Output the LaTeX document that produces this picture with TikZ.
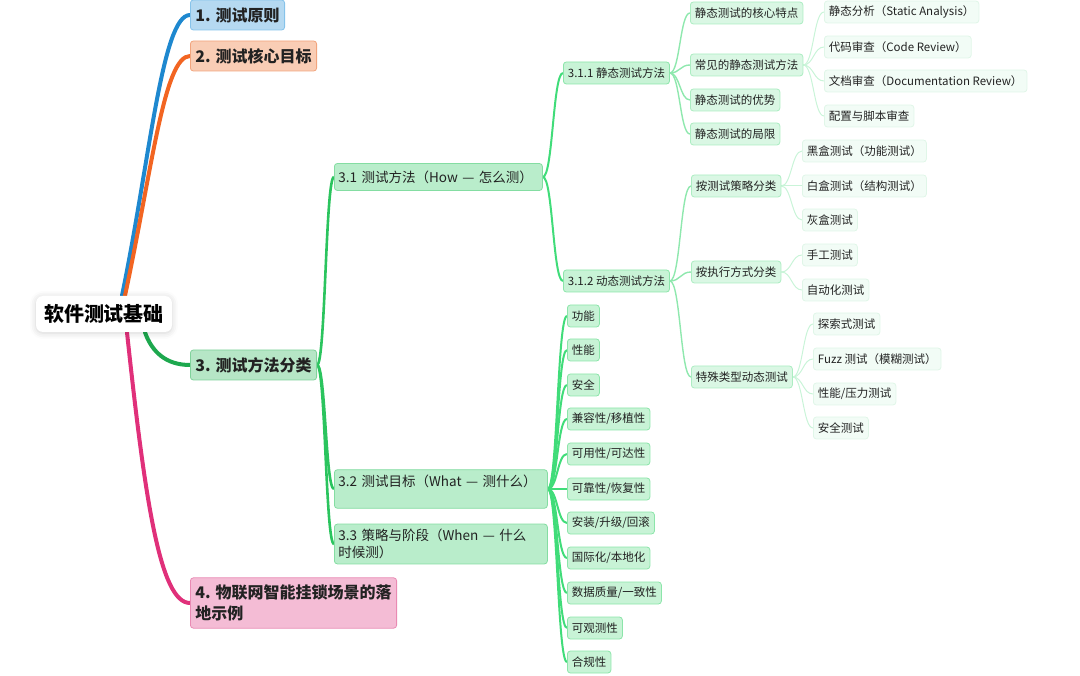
\documentclass[tikz,border=0pt]{standalone}
\usepackage{fontspec}
\setmainfont{Noto Sans CJK SC}
\usetikzlibrary{calc,backgrounds,shadows.blur}
\definecolor{txt}{HTML}{222222}
\definecolor{bLine}{HTML}{1E88CF}\definecolor{bFill}{HTML}{B5D9F1}\definecolor{bBd}{HTML}{86C3EA}
\definecolor{oLine}{HTML}{F26522}\definecolor{oFill}{HTML}{F9CDB5}\definecolor{oBd}{HTML}{F2A57E}
\definecolor{gLine}{HTML}{1DA84E}\definecolor{gFill}{HTML}{B6E6C6}\definecolor{gBd}{HTML}{80D29B}
\definecolor{pLine}{HTML}{E0307A}\definecolor{pFill}{HTML}{F4BCD5}\definecolor{pBd}{HTML}{E98AB3}
\definecolor{twoLine}{HTML}{2BC45E}\definecolor{twoFill}{HTML}{B9EDCB}\definecolor{twoBd}{HTML}{84DDA2}
\definecolor{thrLine}{HTML}{40DC79}\definecolor{thrFill}{HTML}{C8F3D6}\definecolor{thrBd}{HTML}{8CE5AA}
\definecolor{fouLine}{HTML}{8FE8AE}\definecolor{fouFill}{HTML}{DAF7E4}\definecolor{fouBd}{HTML}{ACEDC2}
\definecolor{fivLine}{HTML}{C9F4D8}\definecolor{fivFill}{HTML}{F2FCF6}\definecolor{fivBd}{HTML}{E0F6E8}
\newcommand\conn[3]{\draw[#1] let \p1=(#2.east), \p2=(#3.west), \n1={(\x1+\x2)/2} in (\p1) .. controls (\n1,\y1) and (\n1,\y2) .. (\p2);}
\begin{document}
\begin{tikzpicture}[x=1pt,y=-1pt,
  every node/.style={text=txt, anchor=west, rounded corners=3pt, line width=0.8pt, inner ysep=2pt},
  rootn/.style={anchor=center, fill=white, rounded corners=7pt, inner xsep=8pt, minimum height=36pt,
     font=\fontsize{20}{24}\selectfont\bfseries, text=black,
     blur shadow={shadow blur radius=6pt, shadow xshift=0pt, shadow yshift=-1pt, shadow opacity=18}},
  topn/.style={draw, minimum height=30pt, inner xsep=5pt, inner ysep=7pt, align=left,
     font=\fontsize{16}{21}\selectfont\bfseries},
  lvtwo/.style={draw=twoBd, fill=twoFill, minimum height=27pt, inner xsep=4pt, inner ysep=5pt,
     font=\fontsize{13.5}{17}\selectfont},
  lvthr/.style={draw=thrBd, fill=thrFill, minimum height=22pt, inner xsep=4.5pt, font=\fontsize{11.5}{14}\selectfont},
  lvfou/.style={draw=fouBd, fill=fouFill, minimum height=22pt, inner xsep=4.5pt, font=\fontsize{11.5}{14}\selectfont},
  lvfiv/.style={draw=fivBd, fill=fivFill, minimum height=22pt, inner xsep=4.5pt, font=\fontsize{11.5}{14}\selectfont},
  cone/.style={line width=4pt, line cap=round},
  ctwo/.style={draw=twoLine, line width=2.6pt},
  cthr/.style={draw=thrLine, line width=2pt},
  cfou/.style={draw=fouLine, line width=1.4pt},
  cfiv/.style={draw=fivLine, line width=1pt}
]
\useasboundingbox (0,0) rectangle (1080,676);
% root and top level
\node[rootn] (root) at (104,314) {软件测试基础};
\node[topn, fill=bFill, draw=bBd] (n1) at (190,15) {1. 测试原则};
\node[topn, fill=oFill, draw=oBd] (n2) at (190,56) {2. 测试核心目标};
\node[topn, fill=gFill, draw=gBd] (n3) at (190,365) {3. 测试方法分类};
\node[topn, fill=pFill, draw=pBd] (n4) at (190,603) {4. 物联网智能挂锁场景的落\\地示例};
\coordinate (rb) at ($(root.north)+(18,0)$);
\coordinate (ro) at ($(root.north)+(21,0)$);
\coordinate (rg) at ($(root.south)+(41,0)$);
\coordinate (rp) at ($(root.south)+(23,0)$);
% level 2
\node[lvtwo, text width=200pt, align=left] (n31) at (334,177) {3.1 测试方法（How — 怎么测）};
\node[lvtwo, text width=205pt, align=left] (n32) at (334,489) {3.2 测试目标（What — 测什么）\\\mbox{}};
\node[lvtwo, text width=205pt, align=left] (n33) at (334,544) {3.3 策略与阶段（When — 什么\\时候测）};
% level 3
\node[lvthr] (n311) at (563,73) {3.1.1 静态测试方法};
\node[lvthr] (n312) at (563,281) {3.1.2 动态测试方法};
\node[lvthr] (t1) at (567,316) {功能};
\node[lvthr] (t2) at (567,350) {性能};
\node[lvthr] (t3) at (567,385) {安全};
\node[lvthr] (t4) at (567,419) {兼容性/移植性};
\node[lvthr] (t5) at (567,454) {可用性/可达性};
\node[lvthr] (t6) at (567,489) {可靠性/恢复性};
\node[lvthr] (t7) at (567,523) {安装/升级/回滚};
\node[lvthr] (t8) at (567,558) {国际化/本地化};
\node[lvthr] (t9) at (567,593) {数据质量/一致性};
\node[lvthr] (t10) at (567,628) {可观测性};
\node[lvthr] (t11) at (567,662) {合规性};
% level 4
\node[lvfou] (s1) at (690,13) {静态测试的核心特点};
\node[lvfou] (s2) at (690,65) {常见的静态测试方法};
\node[lvfou] (s3) at (690,100) {静态测试的优势};
\node[lvfou] (s4) at (690,134) {静态测试的局限};
\node[lvfou] (d1) at (691,186) {按测试策略分类};
\node[lvfou] (d2) at (691,272) {按执行方式分类};
\node[lvfou] (d3) at (691,377) {特殊类型动态测试};
% level 5
\node[lvfiv] (m1) at (824,12) {静态分析（Static Analysis）};
\node[lvfiv] (m2) at (824,47) {代码审查（Code Review）};
\node[lvfiv] (m3) at (824,81) {文档审查（Documentation Review）};
\node[lvfiv] (m4) at (824,116) {配置与脚本审查};
\node[lvfiv] (b1) at (802,151) {黑盒测试（功能测试）};
\node[lvfiv] (b2) at (802,186) {白盒测试（结构测试）};
\node[lvfiv] (b3) at (802,220) {灰盒测试};
\node[lvfiv] (e1) at (802,255) {手工测试};
\node[lvfiv] (e2) at (802,290) {自动化测试};
\node[lvfiv] (x1) at (813,324) {探索式测试};
\node[lvfiv] (x2) at (813,359) {Fuzz 测试（模糊测试）};
\node[lvfiv] (x3) at (813,394) {性能/压力测试};
\node[lvfiv] (x4) at (813,428) {安全测试};
\begin{scope}[on background layer]
\draw[cone, bLine] (rb) .. controls (150,160) and (162,15) .. (n1.west);
\draw[cone, oLine] (ro) .. controls (152,170) and (164,56) .. (n2.west);
\draw[cone, gLine] (rg) .. controls (152,352) and (166,365) .. (n3.west);
\draw[cone, pLine] (rp) .. controls (145,500) and (160,603) .. (n4.west);
\conn{ctwo}{n3}{n31}\conn{ctwo}{n3}{n32}\conn{ctwo}{n3}{n33}
\conn{cthr}{n31}{n311}\conn{cthr}{n31}{n312}
\foreach \t in {t1,t2,t3,t4,t5,t6,t7,t8,t9,t10,t11}{\conn{cthr}{n32}{\t}}
\foreach \t in {s1,s2,s3,s4}{\conn{cfou}{n311}{\t}}
\foreach \t in {d1,d2,d3}{\conn{cfou}{n312}{\t}}
\foreach \t in {m1,m2,m3,m4}{\conn{cfiv}{s2}{\t}}
\foreach \t in {b1,b2,b3}{\conn{cfiv}{d1}{\t}}
\foreach \t in {e1,e2}{\conn{cfiv}{d2}{\t}}
\foreach \t in {x1,x2,x3,x4}{\conn{cfiv}{d3}{\t}}
\end{scope}
\end{tikzpicture}
\end{document}
